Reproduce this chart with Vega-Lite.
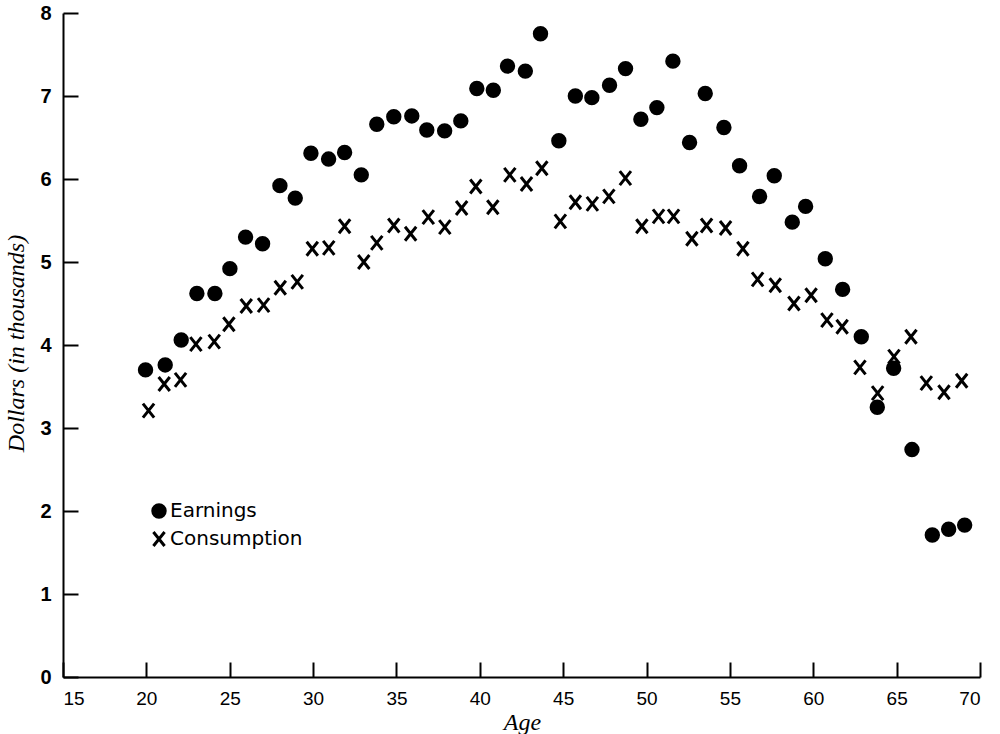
{
  "$schema": "https://vega.github.io/schema/vega-lite/v6.json",
  "width": 917,
  "height": 664,
  "autosize": "none",
  "padding": {"left": 63, "top": 13, "right": 20, "bottom": 57},
  "background": "white",
  "config": {
    "view": {"stroke": null},
    "axis": {
      "grid": false,
      "domainColor": "black",
      "domainWidth": 2,
      "tickColor": "black",
      "tickWidth": 2,
      "tickSize": -15,
      "labelColor": "black",
      "titleColor": "black",
      "titleFont": "Liberation Serif",
      "titleFontStyle": "italic",
      "titleFontWeight": "normal",
      "titleFontSize": 24
    }
  },
  "data": {
    "values": [
      {"age": 19.95, "dollars": 3.70, "series": "Earnings"},
      {"age": 21.13, "dollars": 3.76, "series": "Earnings"},
      {"age": 22.09, "dollars": 4.06, "series": "Earnings"},
      {"age": 23.03, "dollars": 4.62, "series": "Earnings"},
      {"age": 24.11, "dollars": 4.62, "series": "Earnings"},
      {"age": 25.01, "dollars": 4.92, "series": "Earnings"},
      {"age": 25.95, "dollars": 5.30, "series": "Earnings"},
      {"age": 26.97, "dollars": 5.22, "series": "Earnings"},
      {"age": 28.01, "dollars": 5.92, "series": "Earnings"},
      {"age": 28.93, "dollars": 5.77, "series": "Earnings"},
      {"age": 29.87, "dollars": 6.31, "series": "Earnings"},
      {"age": 30.93, "dollars": 6.24, "series": "Earnings"},
      {"age": 31.89, "dollars": 6.32, "series": "Earnings"},
      {"age": 32.89, "dollars": 6.05, "series": "Earnings"},
      {"age": 33.82, "dollars": 6.66, "series": "Earnings"},
      {"age": 34.84, "dollars": 6.75, "series": "Earnings"},
      {"age": 35.92, "dollars": 6.76, "series": "Earnings"},
      {"age": 36.82, "dollars": 6.59, "series": "Earnings"},
      {"age": 37.89, "dollars": 6.58, "series": "Earnings"},
      {"age": 38.86, "dollars": 6.70, "series": "Earnings"},
      {"age": 39.82, "dollars": 7.09, "series": "Earnings"},
      {"age": 40.81, "dollars": 7.07, "series": "Earnings"},
      {"age": 41.66, "dollars": 7.36, "series": "Earnings"},
      {"age": 42.73, "dollars": 7.30, "series": "Earnings"},
      {"age": 43.64, "dollars": 7.75, "series": "Earnings"},
      {"age": 44.74, "dollars": 6.46, "series": "Earnings"},
      {"age": 45.73, "dollars": 7.00, "series": "Earnings"},
      {"age": 46.72, "dollars": 6.98, "series": "Earnings"},
      {"age": 47.78, "dollars": 7.13, "series": "Earnings"},
      {"age": 48.74, "dollars": 7.33, "series": "Earnings"},
      {"age": 49.66, "dollars": 6.72, "series": "Earnings"},
      {"age": 50.62, "dollars": 6.86, "series": "Earnings"},
      {"age": 51.58, "dollars": 7.42, "series": "Earnings"},
      {"age": 52.58, "dollars": 6.44, "series": "Earnings"},
      {"age": 53.52, "dollars": 7.03, "series": "Earnings"},
      {"age": 54.64, "dollars": 6.62, "series": "Earnings"},
      {"age": 55.58, "dollars": 6.16, "series": "Earnings"},
      {"age": 56.78, "dollars": 5.79, "series": "Earnings"},
      {"age": 57.66, "dollars": 6.04, "series": "Earnings"},
      {"age": 58.74, "dollars": 5.48, "series": "Earnings"},
      {"age": 59.54, "dollars": 5.67, "series": "Earnings"},
      {"age": 60.72, "dollars": 5.04, "series": "Earnings"},
      {"age": 61.76, "dollars": 4.67, "series": "Earnings"},
      {"age": 62.88, "dollars": 4.10, "series": "Earnings"},
      {"age": 63.84, "dollars": 3.25, "series": "Earnings"},
      {"age": 64.82, "dollars": 3.72, "series": "Earnings"},
      {"age": 65.92, "dollars": 2.74, "series": "Earnings"},
      {"age": 67.14, "dollars": 1.71, "series": "Earnings"},
      {"age": 68.12, "dollars": 1.78, "series": "Earnings"},
      {"age": 69.08, "dollars": 1.83, "series": "Earnings"},
      {"age": 20.13, "dollars": 3.21, "series": "Consumption"},
      {"age": 21.07, "dollars": 3.53, "series": "Consumption"},
      {"age": 22.05, "dollars": 3.58, "series": "Consumption"},
      {"age": 22.97, "dollars": 4.01, "series": "Consumption"},
      {"age": 24.07, "dollars": 4.04, "series": "Consumption"},
      {"age": 24.95, "dollars": 4.25, "series": "Consumption"},
      {"age": 25.99, "dollars": 4.47, "series": "Consumption"},
      {"age": 27.03, "dollars": 4.48, "series": "Consumption"},
      {"age": 28.03, "dollars": 4.69, "series": "Consumption"},
      {"age": 29.05, "dollars": 4.76, "series": "Consumption"},
      {"age": 29.95, "dollars": 5.16, "series": "Consumption"},
      {"age": 30.94, "dollars": 5.17, "series": "Consumption"},
      {"age": 31.89, "dollars": 5.43, "series": "Consumption"},
      {"age": 33.04, "dollars": 5.00, "series": "Consumption"},
      {"age": 33.82, "dollars": 5.23, "series": "Consumption"},
      {"age": 34.84, "dollars": 5.44, "series": "Consumption"},
      {"age": 35.85, "dollars": 5.34, "series": "Consumption"},
      {"age": 36.91, "dollars": 5.54, "series": "Consumption"},
      {"age": 37.90, "dollars": 5.42, "series": "Consumption"},
      {"age": 38.91, "dollars": 5.65, "series": "Consumption"},
      {"age": 39.76, "dollars": 5.91, "series": "Consumption"},
      {"age": 40.78, "dollars": 5.66, "series": "Consumption"},
      {"age": 41.80, "dollars": 6.05, "series": "Consumption"},
      {"age": 42.80, "dollars": 5.94, "series": "Consumption"},
      {"age": 43.72, "dollars": 6.13, "series": "Consumption"},
      {"age": 44.83, "dollars": 5.49, "series": "Consumption"},
      {"age": 45.73, "dollars": 5.72, "series": "Consumption"},
      {"age": 46.75, "dollars": 5.70, "series": "Consumption"},
      {"age": 47.74, "dollars": 5.79, "series": "Consumption"},
      {"age": 48.73, "dollars": 6.01, "series": "Consumption"},
      {"age": 49.72, "dollars": 5.43, "series": "Consumption"},
      {"age": 50.72, "dollars": 5.55, "series": "Consumption"},
      {"age": 51.62, "dollars": 5.55, "series": "Consumption"},
      {"age": 52.72, "dollars": 5.28, "series": "Consumption"},
      {"age": 53.60, "dollars": 5.44, "series": "Consumption"},
      {"age": 54.74, "dollars": 5.41, "series": "Consumption"},
      {"age": 55.78, "dollars": 5.16, "series": "Consumption"},
      {"age": 56.66, "dollars": 4.79, "series": "Consumption"},
      {"age": 57.72, "dollars": 4.72, "series": "Consumption"},
      {"age": 58.84, "dollars": 4.50, "series": "Consumption"},
      {"age": 59.87, "dollars": 4.60, "series": "Consumption"},
      {"age": 60.82, "dollars": 4.30, "series": "Consumption"},
      {"age": 61.73, "dollars": 4.22, "series": "Consumption"},
      {"age": 62.80, "dollars": 3.73, "series": "Consumption"},
      {"age": 63.86, "dollars": 3.42, "series": "Consumption"},
      {"age": 64.84, "dollars": 3.86, "series": "Consumption"},
      {"age": 65.86, "dollars": 4.10, "series": "Consumption"},
      {"age": 66.78, "dollars": 3.54, "series": "Consumption"},
      {"age": 67.84, "dollars": 3.43, "series": "Consumption"},
      {"age": 68.90, "dollars": 3.57, "series": "Consumption"}
    ]
  },
  "mark": {"type": "point", "filled": false, "color": "black", "strokeWidth": 3, "opacity": 1},
  "encoding": {
    "x": {
      "field": "age",
      "type": "quantitative",
      "scale": {"domain": [15, 70], "nice": false, "zero": false},
      "axis": {
        "values": [15, 20, 25, 30, 35, 40, 45, 50, 55, 60, 65, 70],
        "title": "Age",
        "labelFont": "Liberation Sans",
        "labelFontSize": 19,
        "labelPadding": 27,
        "titleX": 459,
        "titleY": 52,
        "titleBaseline": "alphabetic",
        "titleAnchor": "middle"
      }
    },
    "y": {
      "field": "dollars",
      "type": "quantitative",
      "scale": {"domain": [0, 8], "nice": false},
      "axis": {
        "values": [0, 1, 2, 3, 4, 5, 6, 7, 8],
        "title": "Dollars (in thousands)",
        "labelFont": "Liberation Sans",
        "labelFontWeight": "bold",
        "labelFontSize": 20,
        "labelPadding": 27,
        "titleX": -40,
        "titleY": 330,
        "titleBaseline": "alphabetic",
        "titleAnchor": "middle"
      }
    },
    "shape": {
      "field": "series",
      "type": "nominal",
      "scale": {"domain": ["Earnings", "Consumption"], "range": ["circle", "M-0.8,-1L0.8,1M0.8,-1L-0.8,1"]},
      "legend": {
        "title": null,
        "orient": "none",
        "legendX": 86,
        "legendY": 488,
        "padding": 0,
        "rowPadding": 2,
        "labelFont": "DejaVu Sans",
        "labelFontSize": 20,
        "labelColor": "black",
        "labelOffset": 1,
        "symbolStrokeWidth": 3,
        "symbolStrokeColor": "black"
      }
    },
    "fill": {
      "field": "series",
      "type": "nominal",
      "scale": {"domain": ["Earnings", "Consumption"], "range": ["black", "transparent"]}
    },
    "size": {
      "field": "series",
      "type": "nominal",
      "scale": {"domain": ["Earnings", "Consumption"], "range": [154, 196]}
    }
  }
}
